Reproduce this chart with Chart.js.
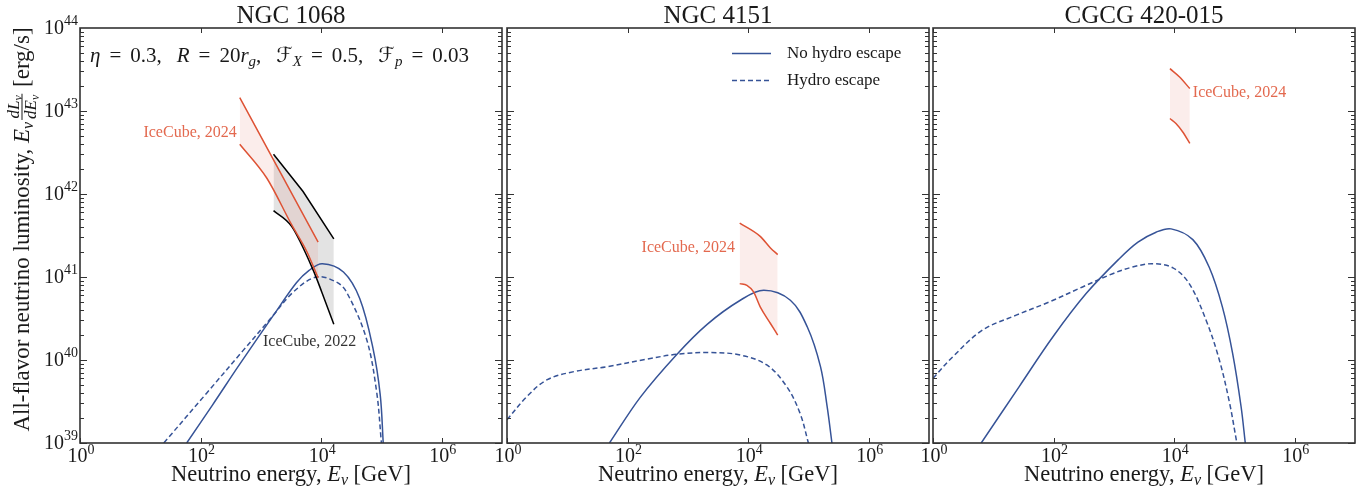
<!DOCTYPE html>
<html>
<head>
<meta charset="utf-8">
<script src="https://cdn.jsdelivr.net/npm/chart.js@4.4.1/dist/chart.umd.min.js"></script>
<style>
  html, body { margin: 0; padding: 0; background: #fff; }
  #wrap { position: relative; width: 1369px; height: 497px; }
  #wrap canvas { position: absolute; left: 0; top: 0; }
</style>
</head>
<body>
<div id="wrap">
  <canvas id="p0" width="1369" height="497"></canvas>
  <canvas id="p1" width="1369" height="497"></canvas>
  <canvas id="p2" width="1369" height="497"></canvas>
</div>
<script>
// axes: energy 1 GeV .. 1e7 GeV, luminosity 1e39 .. 1e44 erg/s
const xTickExps = [0, 2, 4, 6];
const yTickExps = [39, 40, 41, 42, 43, 44];
const sources = ["NGC 1068", "NGC 4151", "CGCG 420-015"];

// all curves stored as log10(E/GeV) and log10(L/(erg/s))
const ngc1068SolidE = [1.77, 2.20, 2.65, 3.21, 3.59, 3.80, 4.02, 4.37, 4.64, 4.86, 4.98, 5.03];
const ngc1068SolidL = [39.00, 39.46, 39.95, 40.54, 40.93, 41.08, 41.16, 41.06, 40.74, 40.14, 39.58, 39.00];
const ngc1068DashE = [1.39, 2.10, 2.70, 3.15, 3.54, 3.92, 4.25, 4.42, 4.75, 4.92, 5.00];
const ngc1068DashL = [39.00, 39.60, 40.11, 40.49, 40.82, 41.00, 40.94, 40.82, 40.26, 39.62, 39.00];
const ngc1068Ic24UpE = [2.65, 3.30, 3.95];
const ngc1068Ic24UpL = [43.16, 42.29, 41.42];
const ngc1068Ic24LoE = [2.65, 3.10, 3.51, 3.76, 3.95];
const ngc1068Ic24LoL = [42.60, 42.19, 41.63, 41.31, 40.99];
const ngc1068Ic22UpE = [3.21, 3.70, 4.21];
const ngc1068Ic22UpL = [42.48, 42.03, 41.46];
const ngc1068Ic22LoE = [3.21, 3.51, 3.87, 4.01, 4.21];
const ngc1068Ic22LoL = [41.80, 41.61, 41.08, 40.82, 40.43];

const ngc4151SolidE = [1.70, 2.21, 2.82, 3.32, 3.87, 4.26, 4.70, 4.98, 5.20, 5.31, 5.39];
const ngc4151SolidL = [39.00, 39.55, 40.07, 40.43, 40.72, 40.84, 40.72, 40.40, 39.92, 39.44, 39.00];
const ngc4151DashE = [0.00, 0.33, 0.66, 1.11, 1.66, 2.32, 2.82, 3.37, 3.87, 4.31, 4.64, 4.86, 5.00];
const ngc4151DashL = [39.28, 39.56, 39.76, 39.86, 39.92, 40.01, 40.07, 40.09, 40.06, 39.94, 39.68, 39.36, 39.00];
const ngc4151Ic24UpE = [3.86, 4.20, 4.37, 4.49];
const ngc4151Ic24UpL = [41.65, 41.49, 41.35, 41.27];
const ngc4151Ic24LoE = [3.86, 3.98, 4.09, 4.20, 4.37, 4.49];
const ngc4151Ic24LoL = [40.92, 40.90, 40.82, 40.64, 40.44, 40.30];

const cgcgSolidE = [0.80, 1.43, 1.99, 2.54, 3.09, 3.40, 3.70, 3.95, 4.31, 4.58, 4.80, 4.97, 5.11, 5.18];
const cgcgSolidL = [39.00, 39.68, 40.28, 40.80, 41.22, 41.42, 41.54, 41.58, 41.45, 41.12, 40.64, 40.08, 39.44, 39.00];
const cgcgDashE = [0.00, 0.33, 0.82, 1.38, 1.93, 2.48, 2.98, 3.31, 3.64, 3.98, 4.25, 4.53, 4.75, 4.92, 5.04];
const cgcgDashL = [39.78, 40.04, 40.36, 40.54, 40.70, 40.88, 41.04, 41.12, 41.16, 41.11, 40.92, 40.48, 40.00, 39.48, 39.00];
const cgcgIc24UpE = [3.93, 4.09, 4.26];
const cgcgIc24UpL = [43.51, 43.41, 43.27];
const cgcgIc24LoE = [3.93, 4.03, 4.14, 4.26];
const cgcgIc24LoL = [42.91, 42.85, 42.75, 42.61];

const BLUE = '#365397';
const RED = '#de5234';
const RED_TEXT = '#e3694f';
const PINK = 'rgba(222, 90, 70, 0.11)';
const GREY = 'rgba(140, 140, 140, 0.24)';
const INK = '#1a1a1a';
const SERIF = '"Liberation Serif", "DejaVu Serif", serif';
const SCRIPT = '"DejaVu Serif", "DejaVu Sans", serif';

function pts(es, ls) {
  return es.map((e, i) => ({ x: 10 ** e, y: 10 ** ls[i] }));
}

function curve(es, ls, color, extra) {
  return Object.assign({
    data: pts(es, ls), borderColor: color, borderWidth: 1.5,
    pointRadius: 0, fill: false, cubicInterpolationMode: 'monotone'
  }, extra || {});
}

// model curves: plain spline, smoother than monotone for these shapes
function model(es, ls, extra) {
  return curve(es, ls, BLUE, Object.assign({ cubicInterpolationMode: 'default', tension: 0.35 }, extra || {}));
}

// --- small rich-text helper (italics, sub/superscripts, fractions) ---
function fontOf(p) {
  return (p.i ? 'italic ' : '') + (p.s || 20) + 'px ' + (p.f || SERIF);
}
function partWidth(ctx, p) {
  if (p.frac) return Math.max(richWidth(ctx, p.frac[0]), richWidth(ctx, p.frac[1])) + 4;
  ctx.font = fontOf(p);
  return ctx.measureText(p.t).width + (p.k || 0) + (p.l || 0);
}
function richWidth(ctx, parts) {
  return parts.reduce((w, p) => w + partWidth(ctx, p), 0);
}
function drawRich(ctx, parts, x, y, align) {
  const w = richWidth(ctx, parts);
  let cx = align === 'center' ? x - w / 2 : align === 'right' ? x - w : x;
  for (const p of parts) {
    const pw = partWidth(ctx, p);
    if (p.frac) {
      const axis = y - 7;
      ctx.fillRect(cx + 1, axis - 0.5, pw - 2, 1);
      drawRich(ctx, p.frac[0], cx + pw / 2, axis - 3, 'center');
      drawRich(ctx, p.frac[1], cx + pw / 2, axis + 14, 'center');
    } else {
      ctx.font = fontOf(p);
      ctx.textAlign = 'left';
      ctx.textBaseline = 'alphabetic';
      ctx.fillText(p.t, cx + (p.l || 0), y + (p.dy || 0));
    }
    cx += pw;
  }
}

const tickLabel = e => [{ t: '10', s: 20 }, { t: String(e), s: 14, dy: -8.5 }];

const xTitle = [
  { t: 'Neutrino energy, ', s: 22.5 }, { t: 'E', s: 22.5, i: 1 },
  { t: 'ν', s: 16, i: 1, dy: 4 }, { t: ' [GeV]', s: 22.5 }
];
const yTitle = [
  { t: 'All-flavor neutrino luminosity, ', s: 23 }, { t: 'E', s: 23, i: 1 },
  { t: 'ν', s: 16, i: 1, dy: 4, k: 1 },
  { frac: [
    [{ t: 'dL', s: 17, i: 1 }, { t: 'ν', s: 12, i: 1, dy: 3 }],
    [{ t: 'dE', s: 17, i: 1 }, { t: 'ν', s: 12, i: 1, dy: 3 }]
  ] },
  { t: ' [erg/s]', s: 23 }
];
// math-style spacing: wider gaps round "=" and after commas
const eq = v => [{ t: '=', s: 21, l: 9, k: 9 }, { t: v, s: 21 }];
const gap = { t: ',', s: 21, k: 15 };
const paramText = [
  { t: 'η', s: 21, i: 1 }, ...eq('0.3'), gap,
  { t: 'R', s: 21, i: 1 }, ...eq('20'), { t: 'r', s: 21, i: 1 }, { t: 'g', s: 15, i: 1, dy: 4 }, gap,
  { t: 'ℱ', s: 21, f: SCRIPT }, { t: 'X', s: 15, i: 1, dy: 4 }, ...eq('0.5'), gap,
  { t: 'ℱ', s: 21, f: SCRIPT }, { t: 'p', s: 15, i: 1, dy: 4 }, ...eq('0.03')
];

// frame, inward ticks, labels and annotations
const panelDecor = {
  id: 'panelDecor',
  afterDraw(chart, args, opts) {
    const { ctx, chartArea: a, scales: { x, y } } = chart;
    const idx = opts.idx;
    const px = v => x.getPixelForValue(v);
    const py = v => y.getPixelForValue(v);
    ctx.save();

    ctx.strokeStyle = '#333';
    ctx.lineWidth = 1;
    ctx.beginPath();
    xTickExps.forEach(e => {
      const xx = Math.round(px(10 ** e)) + 0.5;
      ctx.moveTo(xx, a.bottom); ctx.lineTo(xx, a.bottom - 5);
      ctx.moveTo(xx, a.top); ctx.lineTo(xx, a.top + 5);
    });
    for (let d = yTickExps[0]; d < yTickExps[yTickExps.length - 1]; d++) {
      for (let m = 1; m < 10; m++) {
        const len = m === 1 ? 7 : 4;
        const yy = Math.round(py(m * 10 ** d)) + 0.5;
        ctx.moveTo(a.left, yy); ctx.lineTo(a.left + len, yy);
        ctx.moveTo(a.right, yy); ctx.lineTo(a.right - len, yy);
      }
    }
    ctx.stroke();
    ctx.lineWidth = 1.6;
    ctx.strokeRect(a.left, a.top, a.right - a.left, a.bottom - a.top);

    ctx.fillStyle = INK;
    xTickExps.forEach(e => drawRich(ctx, tickLabel(e), px(10 ** e) + 1, a.bottom + 19, 'center'));
    if (idx === 0) {
      yTickExps.forEach(e => drawRich(ctx, tickLabel(e), a.left - 2, py(10 ** e) + 5.5, 'right'));
      ctx.save();
      ctx.translate(29, (a.top + a.bottom) / 2 - 6);
      ctx.rotate(-Math.PI / 2);
      drawRich(ctx, yTitle, 0, 0, 'center');
      ctx.restore();
      drawRich(ctx, paramText, a.left + 10, a.top + 34, 'left');
    }
    const cx = (a.left + a.right) / 2;
    drawRich(ctx, xTitle, cx, 481, 'center');
    ctx.font = '25px ' + SERIF;
    ctx.textAlign = 'center';
    ctx.textBaseline = 'alphabetic';
    ctx.fillText(sources[idx], cx, 23);

    ctx.font = '16px ' + SERIF;
    ctx.textBaseline = 'middle';
    if (idx === 0) {
      ctx.fillStyle = RED_TEXT;
      ctx.textAlign = 'right';
      ctx.fillText('IceCube, 2024', px(10 ** 2.6), py(10 ** 42.74));
      ctx.fillStyle = '#333';
      ctx.textAlign = 'center';
      ctx.fillText('IceCube, 2022', px(10 ** 3.81), py(10 ** 40.22));
    } else if (idx === 1) {
      ctx.fillStyle = RED_TEXT;
      ctx.textAlign = 'right';
      ctx.fillText('IceCube, 2024', px(10 ** 3.78), py(10 ** 41.35));
      // legend
      const ds = chart.data.datasets;
      const rows = [[ds[2], 'No hydro escape'], [ds[3], 'Hydro escape']];
      rows.forEach(([d, label], r) => {
        const yy = a.top + 25.5 + r * 27;
        ctx.strokeStyle = d.borderColor;
        ctx.lineWidth = d.borderWidth;
        ctx.setLineDash(d.borderDash || []);
        ctx.beginPath();
        ctx.moveTo(a.right - 197, yy); ctx.lineTo(a.right - 158, yy);
        ctx.stroke();
        ctx.setLineDash([]);
        ctx.fillStyle = INK;
        ctx.font = '17px ' + SERIF;
        ctx.textAlign = 'left';
        ctx.fillText(label, a.right - 142, yy);
      });
    } else {
      ctx.fillStyle = RED_TEXT;
      ctx.textAlign = 'left';
      ctx.fillText('IceCube, 2024', px(10 ** 4.31), py(10 ** 43.22));
    }
    ctx.restore();
  }
};

const dash = { borderDash: [5, 3] };
const panels = [
  { left: 80, right: 502, sets: [
    curve(ngc1068Ic24UpE, ngc1068Ic24UpL, RED, { fill: '+1', backgroundColor: PINK, cubicInterpolationMode: 'default', tension: 0 }),
    curve(ngc1068Ic24LoE, ngc1068Ic24LoL, RED),
    curve(ngc1068Ic22UpE, ngc1068Ic22UpL, '#000', { fill: '+1', backgroundColor: GREY, cubicInterpolationMode: 'default', tension: 0 }),
    curve(ngc1068Ic22LoE, ngc1068Ic22LoL, '#000'),
    model(ngc1068SolidE, ngc1068SolidL),
    model(ngc1068DashE, ngc1068DashL, dash)
  ] },
  { left: 507, right: 929, sets: [
    curve(ngc4151Ic24UpE, ngc4151Ic24UpL, RED, { fill: '+1', backgroundColor: PINK }),
    curve(ngc4151Ic24LoE, ngc4151Ic24LoL, RED),
    model(ngc4151SolidE, ngc4151SolidL),
    model(ngc4151DashE, ngc4151DashL, dash)
  ] },
  { left: 933, right: 1355, sets: [
    curve(cgcgIc24UpE, cgcgIc24UpL, RED, { fill: '+1', backgroundColor: PINK }),
    curve(cgcgIc24LoE, cgcgIc24LoL, RED),
    model(cgcgSolidE, cgcgSolidL),
    model(cgcgDashE, cgcgDashL, dash)
  ] }
];

panels.forEach((p, idx) => {
  new Chart(document.getElementById('p' + idx), {
    type: 'line',
    data: { datasets: p.sets },
    options: {
      responsive: false,
      animation: false,
      events: [],
      layout: { padding: { left: 0, right: 1369 - p.right, top: 28, bottom: 0 } },
      scales: {
        x: {
          type: 'logarithmic', min: 1, max: 1e7,
          ticks: { display: false }, grid: { display: false }, border: { display: false },
          afterFit: s => { s.height = 54; }
        },
        y: {
          type: 'logarithmic', min: 1e39, max: 1e44,
          ticks: { display: false }, grid: { display: false }, border: { display: false },
          afterFit: s => { s.width = p.left; }
        }
      },
      plugins: {
        legend: { display: false },
        tooltip: { enabled: false },
        filler: { drawTime: 'beforeDatasetsDraw' },
        panelDecor: { idx }
      }
    },
    plugins: [panelDecor]
  });
});
</script>
</body>
</html>
